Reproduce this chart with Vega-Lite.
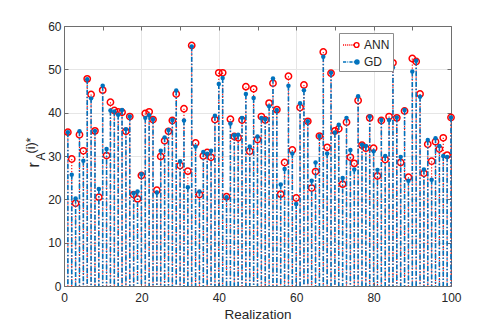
{
  "$schema": "https://vega.github.io/schema/vega-lite/v6.json",
  "width": 387,
  "height": 260,
  "autosize": "none",
  "padding": {"left": 64, "top": 26, "right": 47, "bottom": 46},
  "background": "white",
  "config": {
    "view": {"stroke": null},
    "font": "Liberation Sans",
    "legend": {"strokeColor": "#8c8c8c", "strokeWidth": 1, "fillColor": "white"}
  },
  "data": {
    "values": [
      {"r": 1, "ANN": 35.5, "GD": 35.5},
      {"r": 2, "ANN": 29.3, "GD": 25.7},
      {"r": 3, "ANN": 19.1, "GD": 20.2},
      {"r": 4, "ANN": 34.9, "GD": 35.7},
      {"r": 5, "ANN": 31.2, "GD": 28.9},
      {"r": 6, "ANN": 47.8, "GD": 47.7},
      {"r": 7, "ANN": 44.2, "GD": 43.3},
      {"r": 8, "ANN": 35.8, "GD": 35.8},
      {"r": 9, "ANN": 20.5, "GD": 22.4},
      {"r": 10, "ANN": 45.2, "GD": 46.2},
      {"r": 11, "ANN": 30.1, "GD": 31.6},
      {"r": 12, "ANN": 42.4, "GD": 40.5},
      {"r": 13, "ANN": 40.5, "GD": 40.3},
      {"r": 14, "ANN": 40.2, "GD": 39.5},
      {"r": 15, "ANN": 40.1, "GD": 40.6},
      {"r": 16, "ANN": 35.7, "GD": 36.2},
      {"r": 17, "ANN": 39.1, "GD": 39.1},
      {"r": 18, "ANN": 21.1, "GD": 21.4},
      {"r": 19, "ANN": 20.1, "GD": 21.8},
      {"r": 20, "ANN": 25.5, "GD": 25.8},
      {"r": 21, "ANN": 39.8, "GD": 38.8},
      {"r": 22, "ANN": 40.2, "GD": 39.4},
      {"r": 23, "ANN": 38.4, "GD": 38.5},
      {"r": 24, "ANN": 22.1, "GD": 21.6},
      {"r": 25, "ANN": 29.9, "GD": 31.2},
      {"r": 26, "ANN": 33.5, "GD": 34.3},
      {"r": 27, "ANN": 35.7, "GD": 36.0},
      {"r": 28, "ANN": 38.2, "GD": 38.3},
      {"r": 29, "ANN": 44.3, "GD": 45.1},
      {"r": 30, "ANN": 27.8, "GD": 28.8},
      {"r": 31, "ANN": 40.9, "GD": 38.2},
      {"r": 32, "ANN": 26.5, "GD": 22.8},
      {"r": 33, "ANN": 55.5, "GD": 55.3},
      {"r": 34, "ANN": 33.0, "GD": 32.2},
      {"r": 35, "ANN": 21.1, "GD": 21.8},
      {"r": 36, "ANN": 30.0, "GD": 30.9},
      {"r": 37, "ANN": 30.8, "GD": 30.5},
      {"r": 38, "ANN": 29.7, "GD": 31.2},
      {"r": 39, "ANN": 38.4, "GD": 39.3},
      {"r": 40, "ANN": 49.2, "GD": 46.6},
      {"r": 41, "ANN": 49.2, "GD": 48.0},
      {"r": 42, "ANN": 20.6, "GD": 20.5},
      {"r": 43, "ANN": 38.5, "GD": 37.5},
      {"r": 44, "ANN": 34.5, "GD": 34.8},
      {"r": 45, "ANN": 34.2, "GD": 34.9},
      {"r": 46, "ANN": 38.3, "GD": 38.8},
      {"r": 47, "ANN": 46.0, "GD": 44.3},
      {"r": 48, "ANN": 31.1, "GD": 32.2},
      {"r": 49, "ANN": 45.5, "GD": 43.4},
      {"r": 50, "ANN": 33.8, "GD": 34.5},
      {"r": 51, "ANN": 39.1, "GD": 38.8},
      {"r": 52, "ANN": 38.3, "GD": 38.5},
      {"r": 53, "ANN": 42.2, "GD": 41.5},
      {"r": 54, "ANN": 46.8, "GD": 47.9},
      {"r": 55, "ANN": 40.7, "GD": 40.6},
      {"r": 56, "ANN": 21.2, "GD": 23.4},
      {"r": 57, "ANN": 28.5, "GD": 27.0},
      {"r": 58, "ANN": 48.4, "GD": 46.2},
      {"r": 59, "ANN": 31.4, "GD": 30.6},
      {"r": 60, "ANN": 20.3, "GD": 18.9},
      {"r": 61, "ANN": 41.2, "GD": 42.2},
      {"r": 62, "ANN": 46.4, "GD": 45.2},
      {"r": 63, "ANN": 38.0, "GD": 38.0},
      {"r": 64, "ANN": 22.6, "GD": 24.3},
      {"r": 65, "ANN": 26.4, "GD": 28.5},
      {"r": 66, "ANN": 34.6, "GD": 34.6},
      {"r": 67, "ANN": 54.0, "GD": 52.9},
      {"r": 68, "ANN": 32.0, "GD": 30.6},
      {"r": 69, "ANN": 49.1, "GD": 49.2},
      {"r": 70, "ANN": 35.8, "GD": 35.4},
      {"r": 71, "ANN": 36.3, "GD": 37.2},
      {"r": 72, "ANN": 23.5, "GD": 24.9},
      {"r": 73, "ANN": 37.8, "GD": 38.8},
      {"r": 74, "ANN": 29.7, "GD": 31.4},
      {"r": 75, "ANN": 28.3, "GD": 26.9},
      {"r": 76, "ANN": 42.8, "GD": 43.8},
      {"r": 77, "ANN": 32.5, "GD": 32.6},
      {"r": 78, "ANN": 31.8, "GD": 32.3},
      {"r": 79, "ANN": 38.8, "GD": 39.1},
      {"r": 80, "ANN": 31.8, "GD": 31.1},
      {"r": 81, "ANN": 25.4, "GD": 26.8},
      {"r": 82, "ANN": 38.2, "GD": 38.3},
      {"r": 83, "ANN": 29.2, "GD": 30.0},
      {"r": 84, "ANN": 39.1, "GD": 38.3},
      {"r": 85, "ANN": 51.5, "GD": 50.4},
      {"r": 86, "ANN": 38.8, "GD": 38.9},
      {"r": 87, "ANN": 28.5, "GD": 29.8},
      {"r": 88, "ANN": 40.4, "GD": 40.6},
      {"r": 89, "ANN": 25.1, "GD": 24.3},
      {"r": 90, "ANN": 52.5, "GD": 49.5},
      {"r": 91, "ANN": 51.8, "GD": 52.0},
      {"r": 92, "ANN": 44.3, "GD": 43.7},
      {"r": 93, "ANN": 26.0, "GD": 26.9},
      {"r": 94, "ANN": 32.7, "GD": 33.7},
      {"r": 95, "ANN": 28.8, "GD": 24.5},
      {"r": 96, "ANN": 33.3, "GD": 34.1},
      {"r": 97, "ANN": 31.6, "GD": 32.3},
      {"r": 98, "ANN": 34.2, "GD": 30.0},
      {"r": 99, "ANN": 30.2, "GD": 29.8},
      {"r": 100, "ANN": 38.9, "GD": 38.9}
    ]
  },
  "transform": [{"fold": ["ANN", "GD"], "as": ["series", "value"]}],
  "layer": [
    {
      "layer": [
        {
          "transform": [{"filter": "datum.series === 'ANN'"}],
          "mark": {"type": "rule", "color": "#ff0000", "strokeDash": [1.2, 1.8], "strokeWidth": 1.1},
          "encoding": {
            "x": {
              "field": "r", "type": "quantitative",
              "scale": {"domain": [0, 100], "nice": false, "zero": false},
              "axis": {
                "title": "Realization",
                "values": [0, 10, 20, 30, 40, 50, 60, 70, 80, 90, 100],
                "grid": true, "gridColor": "#e6e6e6", "gridWidth": 1,
                "tickSize": -4, "tickColor": "#6e6e6e", "domainColor": "#6e6e6e",
                "labelPadding": 10, "labelFontSize": 12, "labelColor": "#262626", "labelFlush": false,
                "labelFont": "Liberation Sans", "titleFont": "Liberation Sans",
                "titleFontSize": 13.5, "titleFontWeight": "normal", "titleColor": "#262626", "titlePadding": 4
              }
            },
            "y": {
              "field": "value", "type": "quantitative",
              "scale": {"domain": [0, 60], "nice": false},
              "axis": {
                "title": "r",
                "values": [0, 10, 20, 30, 40, 50, 60],
                "grid": true, "gridColor": "#e6e6e6", "gridWidth": 1,
                "tickSize": -4, "tickColor": "#6e6e6e", "domainColor": "#6e6e6e",
                "labelPadding": 7, "labelFontSize": 12, "labelColor": "#262626", "labelFlush": false,
                "labelFont": "Liberation Sans", "titleFont": "Liberation Sans",
                "titleFontSize": 16, "titleFontWeight": "normal", "titleColor": "#262626",
                "titleAlign": "left", "titleAngle": 270, "titleBaseline": "alphabetic",
                "titleX": -26, "titleY": 141
              }
            },
            "y2": {"datum": 0}
          }
        },
        {
          "transform": [{"filter": "datum.series === 'ANN'"}],
          "mark": {"type": "point", "shape": "circle", "filled": false, "color": "#ff0000", "strokeWidth": 1.5, "size": 40, "opacity": 1},
          "encoding": {
            "x": {"field": "r", "type": "quantitative"},
            "y": {"field": "value", "type": "quantitative"}
          }
        },
        {
          "transform": [{"filter": "datum.series === 'GD'"}],
          "mark": {"type": "rule", "color": "#0072BD", "strokeDash": [5, 2, 1.5, 2], "strokeWidth": 1.6},
          "encoding": {
            "x": {"field": "r", "type": "quantitative"},
            "y": {"field": "value", "type": "quantitative"},
            "y2": {"datum": 0}
          }
        },
        {
          "transform": [{"filter": "datum.series === 'GD'"}],
          "mark": {"type": "circle", "size": 20, "opacity": 1, "color": "#0072BD"},
          "encoding": {
            "x": {"field": "r", "type": "quantitative"},
            "y": {"field": "value", "type": "quantitative"}
          }
        }
      ]
    },
    {
      "mark": {"type": "point", "opacity": 0},
      "encoding": {
        "x": {
          "field": "r", "type": "quantitative",
          "scale": {"domain": [0, 100], "nice": false, "zero": false},
          "axis": {"orient": "top", "labels": false, "title": null, "grid": false,
                   "values": [0, 10, 20, 30, 40, 50, 60, 70, 80, 90, 100],
                   "tickSize": -4, "tickColor": "#6e6e6e", "domainColor": "#6e6e6e"}
        },
        "y": {
          "field": "value", "type": "quantitative",
          "scale": {"domain": [0, 60], "nice": false},
          "axis": {"orient": "right", "labels": false, "title": null, "grid": false,
                   "values": [0, 10, 20, 30, 40, 50, 60],
                   "tickSize": -4, "tickColor": "#6e6e6e", "domainColor": "#6e6e6e"}
        },
        "shape": {
          "field": "series", "type": "nominal",
          "scale": {"domain": ["ANN", "GD"], "range": [
            "M-1,0h0.12m0.12,0h0.12m0.12,0h0.12m0.12,0h0.12m0.12,0h0.12m0.12,0h0.12M0.4,0a0.3,0.3 0 1,0 0.6,0a0.3,0.3 0 1,0 -0.6,0",
            "M-1,0h0.4m0.15,0h0.1m0.15,0h0.4m0.15,0h0.1M0.5,0a0.25,0.25 0 1,0 0.5,0a0.25,0.25 0 1,0 -0.5,0"
          ]},
          "legend": {
            "orient": "none", "legendX": 275, "legendY": 7,
            "title": null,
            "symbolSize": 256, "symbolOpacity": 1, "symbolStrokeWidth": 1.4,
            "padding": 3, "rowPadding": 2,
            "labelOffset": 4,
            "labelFontSize": 12, "labelColor": "#262626",
            "labelFont": "Liberation Sans",
            "strokeColor": "#8c8c8c", "fillColor": "white", "cornerRadius": 0
          }
        },
        "fill": {
          "field": "series", "type": "nominal",
          "scale": {"domain": ["ANN", "GD"], "range": ["white", "#0072BD"]}
        },
        "stroke": {
          "field": "series", "type": "nominal",
          "scale": {"domain": ["ANN", "GD"], "range": ["#ff0000", "#0072BD"]}
        }
      }
    },
    {
      "mark": {"type": "point", "opacity": 0},
      "encoding": {
        "y": {
          "field": "value", "type": "quantitative",
          "scale": {"domain": [0, 60], "nice": false},
          "axis": {"orient": "left", "labels": false, "ticks": false, "domain": false, "grid": false,
                   "title": "A", "titleFont": "Liberation Sans", "titleFontSize": 12, "titleFontWeight": "normal",
                   "titleColor": "#262626", "titleAlign": "left", "titleAngle": 270, "titleBaseline": "alphabetic",
                   "titleX": -20, "titleY": 134}
        }
      }
    },
    {
      "mark": {"type": "point", "opacity": 0},
      "encoding": {
        "y": {
          "field": "value", "type": "quantitative",
          "scale": {"domain": [0, 60], "nice": false},
          "axis": {"orient": "left", "labels": false, "ticks": false, "domain": false, "grid": false,
                   "title": "(i)*", "titleFont": "Liberation Sans", "titleFontSize": 12.5, "titleFontWeight": "normal",
                   "titleColor": "#262626", "titleAlign": "left", "titleAngle": 270, "titleBaseline": "alphabetic",
                   "titleX": -30, "titleY": 127}
        }
      }
    }
  ],
  "resolve": {"axis": {"x": "independent", "y": "independent"}}
}
